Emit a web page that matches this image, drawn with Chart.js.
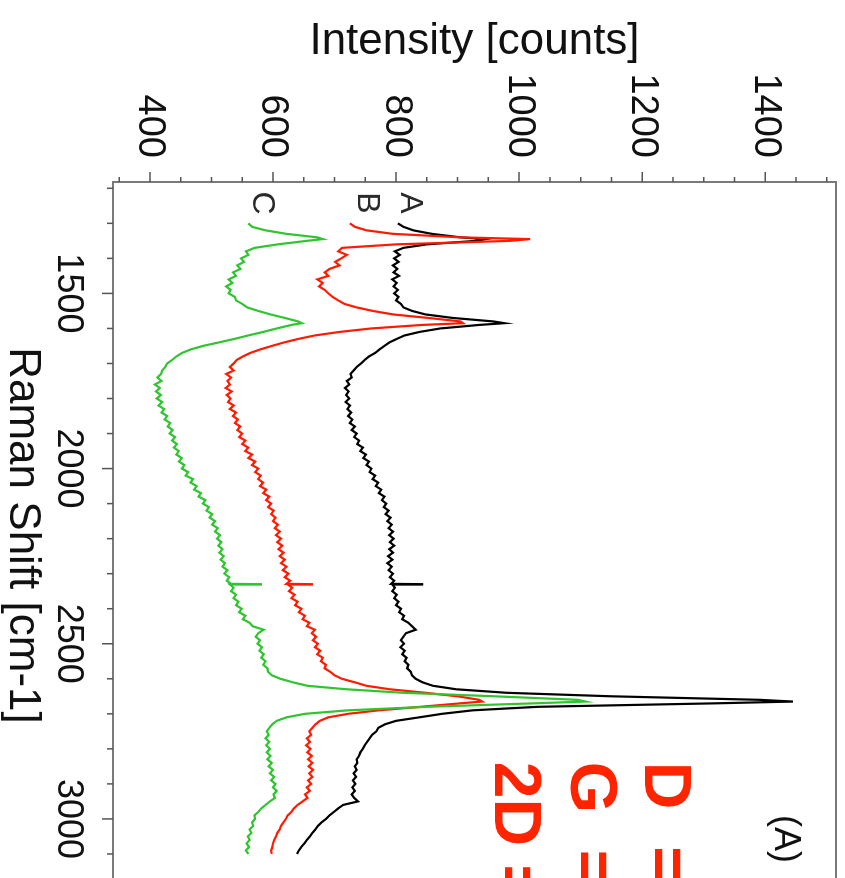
<!DOCTYPE html>
<html>
<head>
<meta charset="utf-8">
<title>Raman spectra</title>
<script src="https://cdn.jsdelivr.net/npm/chart.js@4.4.1/dist/chart.umd.min.js"></script>
<style>
  html, body { margin: 0; padding: 0; background: #fff; overflow: hidden; width: 845px; height: 878px; }
  /* the plot is laid out landscape and turned a quarter turn clockwise */
  #turn { position: absolute; left: 0; top: 0; width: 900px; height: 845px;
          transform-origin: 0 0; transform: translate(845px, 0) rotate(90deg); }
  canvas { display: block; }
</style>
</head>
<body>
<div id="turn"><canvas id="raman" width="900" height="845"></canvas></div>
<script>
// Raman shift (cm-1) sampling shared by the three spectra
const ramanShift = [
  1300,1310,1320,1330,1340,1345,
  1350,1360,1370,1380,1390,1400,1410,1420,1430,1440,1450,1460,1470,1480,1490,1500,1510,1520,1530,1540,1550,1560,1570,1580,
  1585,
  1590,1600,1610,1620,1630,1640,1650,1660,1670,1680,
  1690,1700,1710,1720,1730,1740,1750,1760,1770,1780,
  1790,1800,1810,1820,1830,1840,1850,1860,1870,1880,
  1890,1900,1910,1920,1930,1940,1950,1960,1970,1980,
  1990,2000,2010,2020,2030,2040,2050,2060,2070,2080,
  2090,2100,2110,2120,2130,2140,2150,2160,2170,2180,
  2190,2200,2210,2220,2230,2240,2250,2260,2270,2280,
  2290,2300,2310,2320,
  2329,2330,2331,
  2340,2350,2360,2370,2380,2390,2400,2410,2420,2430,
  2440,2450,2460,2470,2480,2490,2500,2510,2520,2530,
  2540,2550,2560,2570,2580,2590,2600,2610,2620,2630,
  2640,2650,2660,
  2665,
  2670,2680,2690,2700,2710,2720,2730,2740,2750,2760,
  2770,2780,2790,2800,2810,2820,2830,2840,2850,2860,
  2870,2880,2890,2900,2910,2920,2930,2940,2950,2960,
  2970,2980,2990,3000,3010,3020,3030,3040,3050,3060,
  3070,3080,3090,3100
];

// Spectrum A (black)
const intensityA = [
  803,812,828,858,905,946,
  930,850,812,798,806,797,804,795,802,796,805,794,801,796,803,797,804,800,808,812,826,848,892,958,
  976,
  935,872,838,814,801,789,781,773,766,756,
  749,743,736,731,726,728,720,724,717,723,
  719,724,718,725,721,727,722,729,725,733,
  728,736,732,740,737,746,742,751,747,756,
  752,760,757,766,762,771,767,776,772,781,
  777,784,780,788,783,791,786,793,788,795,
  789,796,790,797,789,795,787,794,786,793,
  788,795,790,797,
  792,844,794,
  798,794,801,797,804,800,808,805,813,810,
  820,826,832,816,812,808,813,807,814,810,
  817,814,820,818,824,826,832,843,860,898,
  980,1150,1390,
  1445,
  1320,1030,925,875,838,800,782,771,768,761,
  757,753,749,746,742,740,736,737,733,736,
  731,735,730,734,729,733,728,732,738,714,
  706,699,692,686,679,673,669,664,660,655,
  651,646,642,639
];

// Spectrum B (red)
const intensityB = [
  725,733,752,795,905,1018,
  985,800,712,706,720,711,701,708,692,684,690,672,681,675,684,690,697,706,716,736,762,795,852,905,
  909,
  842,760,708,668,641,618,598,579,563,551,
  541,536,530,536,524,532,526,530,523,533,
  525,531,527,536,530,540,535,543,538,547,
  542,550,545,555,550,560,555,566,560,571,
  566,576,571,580,576,584,579,589,584,594,
  589,597,592,601,597,604,600,608,603,611,
  605,613,607,615,609,617,611,619,613,622,
  616,625,619,628,
  622,665,624,
  631,626,635,630,640,636,646,642,652,648,
  659,655,668,663,670,665,673,668,677,672,
  681,678,686,684,693,700,712,733,752,790,
  848,900,935,
  940,
  905,840,772,722,690,676,669,664,659,662,
  655,660,654,661,656,663,657,664,658,665,
  659,664,657,662,655,660,652,656,648,640,
  634,630,624,621,617,613,611,607,605,602,
  600,599,597,598
];

// Spectrum C (green)
const intensityC = [
  560,566,588,622,672,681,
  655,608,570,556,560,548,553,542,547,535,540,528,534,524,531,528,538,540,550,558,576,596,619,641,
  647,
  630,606,584,560,537,512,486,466,452,443,
  436,428,425,420,418,412,419,408,416,410,
  418,411,420,414,423,419,428,424,433,429,
  437,432,441,436,444,439,447,443,452,447,
  456,452,462,458,470,466,476,472,483,479,
  490,486,496,492,501,497,506,501,510,506,
  514,509,516,511,518,513,520,515,522,518,
  526,521,529,525,
  532,582,530,
  536,532,540,536,544,540,549,545,555,551,
  562,567,585,576,572,579,575,582,578,585,
  581,588,584,591,592,598,612,632,656,720,
  812,960,1095,
  1108,
  1025,850,722,652,622,606,599,594,590,593,
  588,594,589,595,590,596,591,598,593,600,
  595,602,597,604,600,606,601,603,595,588,
  581,576,570,571,566,568,562,565,559,562,
  557,561,556,560
];

// axis ticks
const shiftTicks = [1500, 2000, 2500, 3000];
const shiftMinorTicks = [1200,1300,1400,1500,1600,1700,1800,1900,2000,2100,2200,2300,2400,2500,2600,2700,2800,2900,3000,3100];
const intensityTicks = [400, 600, 800, 1000, 1200, 1400];
const intensityMinorTicks = [350,400,450,500,550,600,650,700,750,800,850,900,950,1000,1050,1100,1150,1200,1250,1300,1350,1400,1450,1500];

// text placed inside the plot: [text, shift, intensity]
const curveLabels = [['A', 1242, 823], ['B', 1242, 753], ['C', 1242, 582]];
const panelLabel = ['(A)', 3057, 1432];
const bandLabels = [['D  =', 2837, 1234], ['G  =', 2837, 1114], ['2D =', 2837, 990]];

const FONT = "'Liberation Sans', Arial, Helvetica, sans-serif";

const toPoints = vals => ramanShift.map((s, i) => ({ x: s, y: vals[i] }));

// keep the plot box exactly where the layout puts it
const noEdgePadding = s => { s.paddingTop = 0; s.paddingBottom = 0; s.paddingLeft = 0; s.paddingRight = 0; };

const frameAndTicks = {
  id: 'frameAndTicks',
  afterDatasetsDraw(chart) {
    const { ctx, chartArea: a, scales: { x, y } } = chart;
    ctx.save();
    ctx.strokeStyle = '#7a7a7a';
    ctx.lineWidth = 2;
    ctx.strokeRect(a.left, a.top, a.right - a.left, a.bottom - a.top);
    ctx.strokeStyle = '#555';
    ctx.lineWidth = 1.5;
    ctx.beginPath();
    intensityMinorTicks.forEach(v => {
      const p = y.getPixelForValue(v);
      const len = intensityTicks.includes(v) ? 10 : 5;
      ctx.moveTo(a.left, p); ctx.lineTo(a.left - len, p);
    });
    shiftMinorTicks.forEach(v => {
      const p = x.getPixelForValue(v);
      const len = shiftTicks.includes(v) ? 11 : 6;
      ctx.moveTo(p, a.bottom); ctx.lineTo(p, a.bottom + len);
    });
    ctx.stroke();
    ctx.restore();
  }
};

const plotText = {
  id: 'plotText',
  afterDraw(chart) {
    const { ctx, scales: { x, y } } = chart;
    ctx.save();
    ctx.textBaseline = 'middle';
    ctx.textAlign = 'center';
    ctx.fillStyle = '#2a2a2a';
    ctx.font = `32px ${FONT}`;
    curveLabels.forEach(([t, s, v]) => ctx.fillText(t, x.getPixelForValue(s), y.getPixelForValue(v)));
    ctx.fillStyle = '#111';
    ctx.font = `36px ${FONT}`;
    ctx.fillText(panelLabel[0], x.getPixelForValue(panelLabel[1]), y.getPixelForValue(panelLabel[2]));
    ctx.textAlign = 'left';
    ctx.fillStyle = '#ff2400';
    ctx.font = `bold 66px ${FONT}`;
    bandLabels.forEach(([t, s, v]) => ctx.fillText(t, x.getPixelForValue(s), y.getPixelForValue(v)));
    ctx.restore();
  }
};

new Chart(document.getElementById('raman'), {
  type: 'line',
  data: {
    datasets: [
      { label: 'A', data: toPoints(intensityA), borderColor: '#000000', borderWidth: 2.2, pointRadius: 0, tension: 0, order: 3 },
      { label: 'B', data: toPoints(intensityB), borderColor: '#ff1a00', borderWidth: 2.2, pointRadius: 0, tension: 0, order: 2 },
      { label: 'C', data: toPoints(intensityC), borderColor: '#2ec52e', borderWidth: 2.2, pointRadius: 0, tension: 0, order: 1 }
    ]
  },
  options: {
    responsive: false,
    animation: false,
    devicePixelRatio: 1,
    layout: { padding: { top: 9, right: 11, left: 0, bottom: 0 } },
    plugins: { legend: { display: false }, tooltip: { enabled: false } },
    scales: {
      x: {
        type: 'linear', min: 1182, max: 3200,
        afterBuildTicks: s => { s.ticks = shiftTicks.map(v => ({ value: v })); },
        afterFit: s => { s.height = 113; noEdgePadding(s); },
        grid: { display: false, drawTicks: true, tickLength: 11 },
        border: { display: false },
        ticks: { font: { family: FONT, size: 36 }, color: '#111', padding: 12, maxRotation: 0, minRotation: 0, autoSkip: false, callback: v => String(v) },
        title: { display: true, text: 'Raman Shift [cm-1]', font: { family: FONT, size: 44, lineHeight: 1 }, color: '#111', padding: { top: 0, bottom: 0 } }
      },
      y: {
        type: 'linear', min: 340, max: 1515,
        afterBuildTicks: s => { s.ticks = intensityTicks.map(v => ({ value: v })); },
        afterFit: s => { s.width = 182; noEdgePadding(s); },
        grid: { display: false, drawTicks: true, tickLength: 11 },
        border: { display: false },
        ticks: { font: { family: FONT, size: 38 }, color: '#111', padding: 13, autoSkip: false, callback: v => String(v) },
        title: { display: true, text: 'Intensity [counts]', font: { family: FONT, size: 44, lineHeight: 1 }, color: '#111', padding: { top: 20, bottom: 0 } }
      }
    }
  },
  plugins: [frameAndTicks, plotText]
});
</script>
</body>
</html>
